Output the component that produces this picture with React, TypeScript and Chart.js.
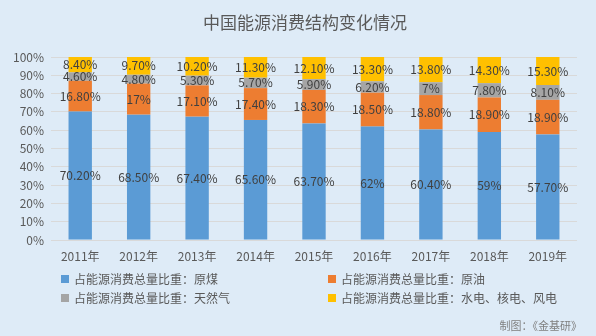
import { useEffect, useRef } from 'react';
import { Chart, registerables } from 'chart.js';

Chart.register(...registerables);

const categories = ['2011年', '2012年', '2013年', '2014年', '2015年', '2016年', '2017年', '2018年', '2019年'];
const coal = [70.2, 68.5, 67.4, 65.6, 63.7, 62, 60.4, 59, 57.7];
const oil = [16.8, 17, 17.1, 17.4, 18.3, 18.5, 18.8, 18.9, 18.9];
const gas = [4.6, 4.8, 5.3, 5.7, 5.9, 6.2, 7, 7.8, 8.1];
const clean = [8.4, 9.7, 10.2, 11.3, 12.1, 13.3, 13.8, 14.3, 15.3];
const seriesNames = [
  '占能源消费总量比重：原煤',
  '占能源消费总量比重：原油',
  '占能源消费总量比重：天然气',
  '占能源消费总量比重：水电、核电、风电',
];
const seriesColors = ['#5B9BD5', '#ED7D31', '#A5A5A5', '#FFC000'];
const titleText = '中国能源消费结构变化情况';
const footerText = '制图：《金基研》';

const FONT = '"Microsoft YaHei", "Noto Sans CJK SC", sans-serif';

const fmt = (v: number) => (Number.isInteger(v) ? `${v}%` : `${v.toFixed(2)}%`);

const overlayPlugin = {
  id: 'overlay',
  afterDatasetsDraw(chart: any) {
    const ctx = chart.ctx;
    ctx.save();
    ctx.textAlign = 'center';
    ctx.textBaseline = 'middle';
    ctx.font = `12px ${FONT}`;
    ctx.fillStyle = '#404040';
    chart.data.datasets.forEach((ds: any, i: number) => {
      const meta = chart.getDatasetMeta(i);
      meta.data.forEach((el: any, j: number) => {
        const v = ds.data[j];
        const y = (el.y + el.base) / 2;
        ctx.fillText(fmt(v), el.x, y);
      });
    });
    ctx.restore();
  },
  afterDraw(chart: any) {
    const ctx = chart.ctx;
    ctx.save();
    // title
    ctx.font = `17px ${FONT}`;
    ctx.fillStyle = '#595959';
    ctx.textAlign = 'center';
    ctx.textBaseline = 'middle';
    ctx.fillText(titleText, 305, 23);
    // legend
    ctx.font = `12px ${FONT}`;
    ctx.textAlign = 'left';
    const colX = [61, 328];
    const rowY = [279, 298];
    chart.data.datasets.forEach((ds: any, i: number) => {
      const x = colX[i % 2];
      const y = rowY[Math.floor(i / 2)];
      ctx.fillStyle = ds.backgroundColor;
      ctx.fillRect(x, y - 4, 8, 8);
      ctx.fillStyle = '#595959';
      ctx.fillText(ds.label, x + 13, y);
    });
    // footer
    ctx.font = `11px ${FONT}`;
    ctx.textAlign = 'right';
    ctx.fillStyle = '#7F7F7F';
    ctx.fillText(footerText, 582, 326);
    ctx.restore();
  },
};

export default function App() {
  const ref = useRef<HTMLCanvasElement | null>(null);
  useEffect(() => {
    if (!ref.current) return;
    const series = [coal, oil, gas, clean];
    const chart = new Chart(ref.current, {
      type: 'bar',
      data: {
        labels: categories,
        datasets: series.map((d, i) => ({
          label: seriesNames[i],
          data: d,
          backgroundColor: seriesColors[i],
          borderWidth: 0,
          categoryPercentage: 1,
          barPercentage: 0.4,
        })),
      },
      options: {
        responsive: false,
        animation: false,
        devicePixelRatio: 1,
        layout: { padding: { top: 57, right: 19, bottom: 56, left: 0 } },
        plugins: {
          legend: { display: false },
          title: { display: false },
          tooltip: { enabled: false },
        },
        scales: {
          x: {
            stacked: true,
            grid: { display: false },
            border: { display: false },
            ticks: { color: '#595959', font: { family: FONT, size: 12 }, padding: 1, maxRotation: 0 },
            afterFit: (s: any) => { s.height = 40; },
          },
          y: {
            stacked: true,
            min: 0,
            max: 100,
            grid: { color: '#D9D9D9', drawTicks: false },
            border: { display: false },
            ticks: {
              stepSize: 10,
              color: '#595959',
              font: { family: FONT, size: 12 },
              padding: 7,
              callback: (v: any) => `${v}%`,
            },
            afterFit: (s: any) => { s.width = 51; },
          },
        },
      },
      plugins: [overlayPlugin],
    });
    return () => chart.destroy();
  }, []);
  return (
    <div style={{ position: 'fixed', left: 0, top: 0, width: 596, height: 336, background: '#DEEBF7' }}>
      <canvas ref={ref} width={596} height={336} style={{ width: 596, height: 336, display: 'block' }} />
    </div>
  );
}
